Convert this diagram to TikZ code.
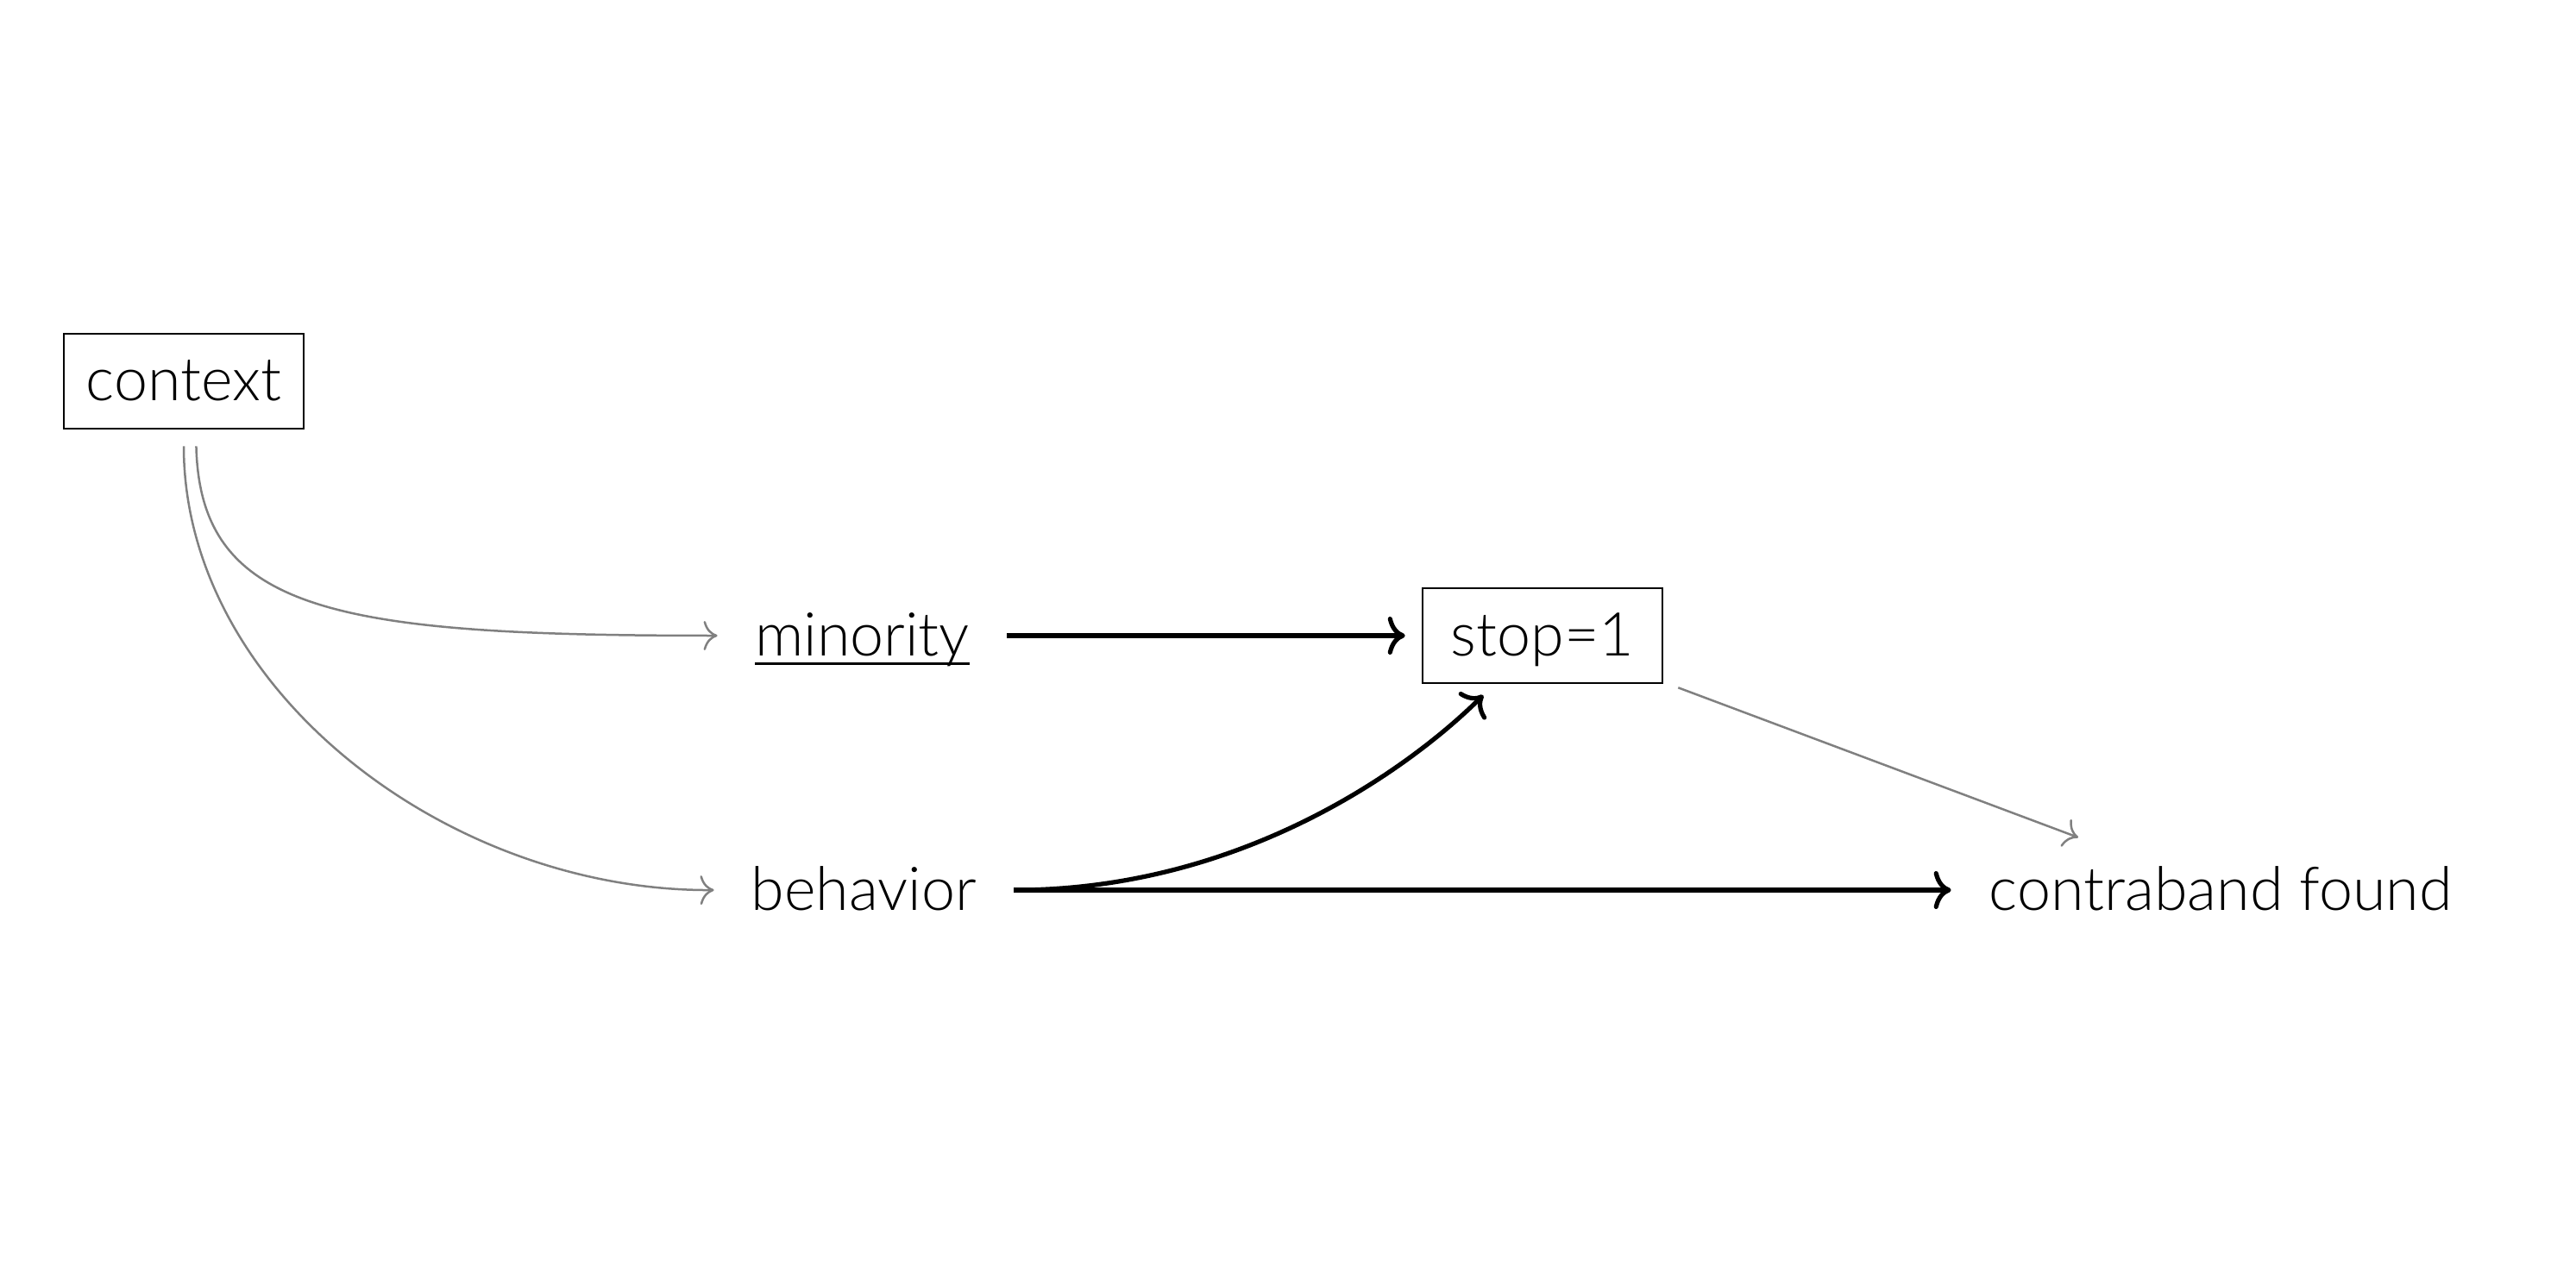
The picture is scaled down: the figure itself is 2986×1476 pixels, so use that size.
\documentclass[tikz,border=0pt]{standalone}
\usepackage{fontspec}
\setmainfont{Lato Light}
\usetikzlibrary{arrows.meta}
\definecolor{edgegray}{RGB}{128,128,128}
\newcommand{\myuline}[1]{{\setbox0\hbox{#1}\rlap{\rule[-5.5pt]{\wd0}{1.4pt}}\box0}}
\begin{document}
\begin{tikzpicture}[x=0.5pt,y=-0.5pt,
  lbl/.style={inner sep=0pt,text height=31pt,text depth=8pt,font=\fontsize{35}{40}\selectfont},
  boxnode/.style={lbl,draw,line width=1.3pt,minimum width=139pt,minimum height=55pt},
  txtnode/.style={lbl},
  grayarr/.style={draw=edgegray,line width=1.25pt,-{To[length=8pt,width=17pt]}},
  blackarr/.style={draw=black,line width=2.6pt,-{To[length=10pt,width=22pt]}}]
\useasboundingbox (0,0) rectangle (2986,1476);
\node[boxnode] (context) at (213,442) {context};
\node[txtnode,minimum width=167.5pt] (minority) at (999.5,737) {\myuline{minority}};
\node[txtnode,minimum width=173.5pt] (behavior) at (1001.5,1032) {behavior};
\node[boxnode] (stop) at (1788,737) {stop=1};
\node[txtnode,minimum width=312pt] (contraband) at (2574,1032) {contraband found};
\draw[grayarr,shorten <=9.5pt] ([xshift=7pt]context.south) .. controls (232,710) and (390,737) .. (minority.west);
\draw[grayarr,shorten <=9.5pt] (context.south) .. controls (213,800) and (520,1034) .. (behavior.west);
\draw[blackarr,shorten >=9.5pt] (minority.east) -- (stop.west);
\draw[blackarr,shorten >=9pt] (behavior.east) .. controls (1450,1032) and (1645,880) .. ([xshift=-28pt]stop.south);
\draw[blackarr] (behavior.east) -- (contraband.west);
\draw[grayarr] ([xshift=8.5pt,yshift=-2pt]stop.south east) -- ([xshift=-82.5pt,yshift=30.5pt]contraband.center);
\end{tikzpicture}
\end{document}
